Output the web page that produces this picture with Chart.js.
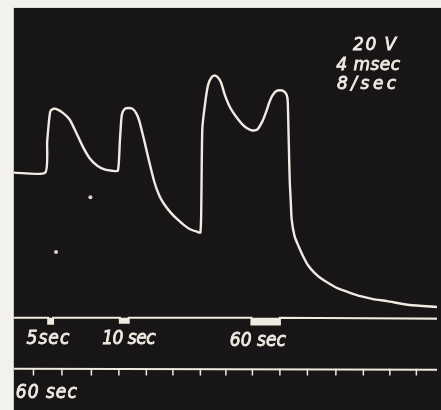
<!DOCTYPE html>
<html>
<head>
<meta charset="utf-8">
<script src="https://cdn.jsdelivr.net/npm/chart.js@4.4.1/dist/chart.umd.min.js"></script>
<style>
	html, body { margin: 0; padding: 0; background: #f3f1ec; }
	#wrap { width: 441px; height: 410px; }
</style>
</head>
<body>
<div id="wrap"><canvas id="scope" width="441" height="410"></canvas></div>
<script>
// sweep position (horizontal) and deflection (vertical) of the beam
const sweepTime = [10, 42, 44, 47, 50, 53, 60, 67, 73, 80, 87, 95, 103, 110, 116,
	118, 120, 123, 127, 131, 135, 138, 143, 147, 153, 158, 163, 170, 177, 184, 190, 196, 200,
	201, 202, 205, 208, 212, 215, 218, 221, 225, 229, 233, 238, 243, 248, 253, 258,
	263, 267, 270, 273, 277, 281, 285, 288, 289, 290, 291, 292, 293, 296, 300, 305,
	310, 316, 323, 331, 340, 351, 363, 376, 390, 413, 441];
const traceVolts = [238, 238, 270, 300, 303, 303, 299, 292, 280, 265, 253, 245, 241, 240, 240,
	270, 297, 303, 304, 303, 298, 290, 270, 253, 229, 215, 206, 197, 190, 184, 180, 178, 177,
	210, 283, 310, 328, 336, 337, 335, 330, 317, 307, 300, 293, 287, 283, 281, 282,
	290, 300, 309, 316, 321, 322, 321, 317, 310, 270, 230, 210, 190, 173, 163, 152,
	143, 136, 130, 125, 120, 116, 112, 109, 107, 103, 101];

// stimulus marker line with its 5, 10 and 60 sec notches
const markerTime = [10, 45, 45, 50, 50, 118, 118, 127, 127, 252, 252, 281, 281, 441];
const markerLevel = [90, 90, 84, 84, 90, 90, 85, 85, 90, 90, 83, 83, 90, 89];

// 60 sec time scale: base line and tick positions
const scaleTime = [10, 441];
const scaleLevel = [38, 37];
const scaleTicks = [30, 59, 89, 117, 145, 172, 200, 226, 253, 281, 309, 338, 366, 393, 420];
const tickTop = 38;
const tickBottom = 31;

// stray bright specks on the screen
const speckTime = [88, 53];
const speckLevel = [213, 157];

const ink = '#efebe3';

// the labels written on the photo
const notes = [
	{ text: '20 V', x: 401, y: 363, align: 'right', font: 'oblique 17px "DejaVu Sans"', spacing: 1.5 },
	{ text: '4 msec', x: 404, y: 343, align: 'right', font: 'oblique 17px "DejaVu Sans"', spacing: 0.5 },
	{ text: '8/sec', x: 403, y: 323, align: 'right', font: 'oblique 17px "DejaVu Sans"', spacing: 3.5 },
	{ text: '5sec', x: 23, y: 63, align: 'left', font: 'oblique 19px "DejaVu Sans Condensed"', spacing: 1 },
	{ text: '10 sec', x: 100, y: 63, align: 'left', font: 'oblique 19px "DejaVu Sans Condensed"', spacing: -0.5 },
	{ text: '60 sec', x: 230, y: 61, align: 'left', font: 'oblique 19px "DejaVu Sans Condensed"', spacing: 0 },
	{ text: '60 sec', x: 12, y: 8, align: 'left', font: 'oblique 19px "DejaVu Sans Condensed"', spacing: 1 }
];

function toPoints(xs, ys) {
	return xs.map((x, i) => ({ x: x, y: ys[i] }));
}

function tickPoints() {
	const pts = [];
	scaleTicks.forEach((t) => {
		pts.push({ x: t, y: tickTop }, { x: t, y: tickBottom }, { x: t, y: null });
	});
	return pts;
}

// dark screen with the white paper margin round it
const screenPlugin = {
	id: 'screen',
	beforeDraw(chart) {
		const { ctx, scales } = chart;
		ctx.save();
		ctx.fillStyle = '#f3f1ec';
		ctx.fillRect(0, 0, chart.width, chart.height);
		const left = scales.x.getPixelForValue(10);
		const top = scales.y.getPixelForValue(406);
		ctx.fillStyle = '#171515';
		ctx.fillRect(left, top, chart.width - left, chart.height - top);
		ctx.restore();
	}
};

// lettering is a little heavier than the book face, so stroke it too
const notesPlugin = {
	id: 'notes',
	afterDatasetsDraw(chart) {
		const { ctx, scales } = chart;
		ctx.save();
		ctx.fillStyle = ink;
		ctx.strokeStyle = ink;
		ctx.lineWidth = 0.8;
		ctx.textBaseline = 'alphabetic';
		notes.forEach((n) => {
			const px = scales.x.getPixelForValue(n.x);
			const py = scales.y.getPixelForValue(n.y);
			ctx.font = n.font;
			ctx.letterSpacing = n.spacing + 'px';
			ctx.textAlign = n.align;
			ctx.fillText(n.text, px, py);
			ctx.strokeText(n.text, px, py);
		});
		ctx.restore();
	}
};

const config = {
	type: 'scatter',
	data: {
		datasets: [
			{
				data: toPoints(sweepTime, traceVolts),
				showLine: true,
				borderColor: ink,
				borderWidth: 2.4,
				tension: 0.2,
				pointRadius: 0
			},
			{
				data: toPoints(markerTime, markerLevel),
				showLine: true,
				borderColor: ink,
				backgroundColor: ink,
				borderWidth: 2,
				fill: { value: 90 },
				pointRadius: 0
			},
			{
				data: toPoints(scaleTime, scaleLevel),
				showLine: true,
				borderColor: ink,
				borderWidth: 2,
				pointRadius: 0
			},
			{
				data: tickPoints(),
				showLine: true,
				spanGaps: false,
				borderColor: ink,
				borderWidth: 1.5,
				pointRadius: 0
			},
			{
				data: toPoints(speckTime, speckLevel),
				showLine: false,
				pointRadius: 2,
				pointBorderWidth: 0,
				pointBackgroundColor: '#d9d5cd'
			}
		]
	},
	options: {
		responsive: false,
		animation: false,
		devicePixelRatio: 1,
		layout: { padding: 0 },
		plugins: {
			legend: { display: false },
			tooltip: { enabled: false }
		},
		scales: {
			x: { type: 'linear', min: 0, max: 441, display: false },
			y: { type: 'linear', min: 0, max: 410, display: false }
		}
	},
	plugins: [screenPlugin, notesPlugin]
};

new Chart(document.getElementById('scope'), config);
</script>
</body>
</html>
